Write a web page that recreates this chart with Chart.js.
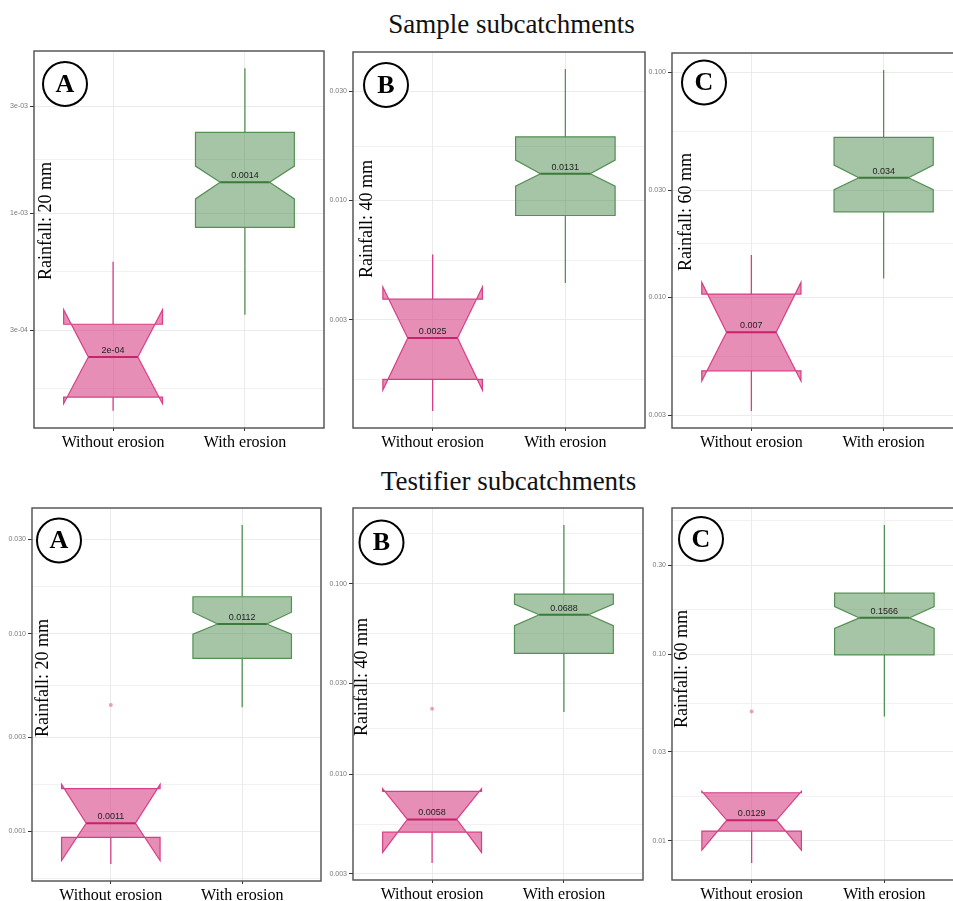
<!DOCTYPE html>
<html>
<head>
<meta charset="utf-8">
<script src="https://cdn.jsdelivr.net/npm/chart.js@4.4.1/dist/chart.umd.min.js"></script>
<style>
  html, body { margin: 0; padding: 0; background: #fff; }
  #page { position: relative; width: 953px; height: 901px; overflow: hidden; background: #fff; }
  .title { position: absolute; transform: translateX(-50%); white-space: nowrap;
           font-family: "Liberation Serif", "Times New Roman", serif; font-size: 27px;
           line-height: 30px; color: #111; }
  canvas { position: absolute; }
</style>
</head>
<body>
<div id="page">
  <div class="title" style="left:511.5px; top:9px;">Sample subcatchments</div>
  <div class="title" style="left:508.5px; top:466px;">Testifier subcatchments</div>
</div>
<script>
// Categories on the x axis
const groups = ['Without erosion', 'With erosion'];

// Box statistics, each as [lower whisker, Q1, median, Q3, upper whisker, notch low, notch high]
// Sample subcatchments
const sample20Without = [0.000131, 0.000151, 0.000228, 0.000319, 0.000606, 0.000141, 0.000370];
const sample20With    = [0.000352, 0.000862, 0.00137, 0.00229, 0.00443, 0.001156, 0.00162];
const sample40Without = [0.00120, 0.00165, 0.00250, 0.00370, 0.00580, 0.00148, 0.00418];
const sample40With    = [0.00435, 0.00860, 0.0131, 0.0190, 0.0376, 0.01156, 0.01503];
const sample60Without = [0.00313, 0.00472, 0.00700, 0.01035, 0.01542, 0.00425, 0.01166];
const sample60With    = [0.01213, 0.0240, 0.0340, 0.0514, 0.1024, 0.0301, 0.0387];
// Testifier subcatchments
const testifier20Without = [0.000684, 0.000933, 0.00110, 0.001645, 0.001645, 0.000713, 0.00173];
const testifier20With    = [0.00425, 0.00750, 0.0112, 0.01538, 0.0355, 0.00996, 0.01285];
const testifier40Without = [0.00342, 0.00497, 0.00580, 0.00814, 0.00814, 0.00389, 0.00841];
const testifier40With    = [0.0212, 0.0431, 0.0688, 0.0883, 0.2036, 0.0603, 0.0783];
const testifier60Without = [0.00760, 0.01128, 0.0129, 0.0181, 0.0181, 0.00891, 0.0184];
const testifier60With    = [0.0464, 0.0991, 0.1566, 0.2123, 0.493, 0.1374, 0.180];

// Outlying points of the "Without erosion" group
const testifier20Outliers = [0.00436];
const testifier40Outliers = [0.0221];
const testifier60Outliers = [0.0493];

// Major y ticks and their labels
const sample20Ticks = [3e-4, 1e-3, 3e-3];
const sample20TickLabels = ['3e-04', '1e-03', '3e-03'];
const sample40Ticks = [0.003, 0.010, 0.030];
const sample40TickLabels = ['0.003', '0.010', '0.030'];
const sample60Ticks = [0.003, 0.010, 0.030, 0.100];
const sample60TickLabels = ['0.003', '0.010', '0.030', '0.100'];
const testifier20Ticks = [0.001, 0.003, 0.010, 0.030];
const testifier20TickLabels = ['0.001', '0.003', '0.010', '0.030'];
const testifier40Ticks = [0.003, 0.010, 0.030, 0.100];
const testifier40TickLabels = ['0.003', '0.010', '0.030', '0.100'];
const testifier60Ticks = [0.01, 0.03, 0.10, 0.30];
const testifier60TickLabels = ['0.01', '0.03', '0.10', '0.30'];

// Colours of the two groups
const pinkStyle  = { fill: 'rgba(209, 50, 120, 0.55)', line: 'rgb(216, 62, 135)', median: '#c62368', point: 'rgba(214, 51, 127, 0.45)' };
const greenStyle = { fill: 'rgba(58, 125, 58, 0.45)',  line: 'rgb(84, 145, 84)',  median: '#3b7a3b' };

// Panel layout: plot rectangle [left, top, width, height] on the page,
// badge circle centre and rotated caption centre relative to the plot's top-left corner
const panels = [
  { letter: 'A', caption: 'Rainfall: 20 mm', boxes: [sample20Without, sample20With], outliers: [],
    ticks: sample20Ticks, labels: sample20TickLabels, rect: [34, 51, 290, 377], badge: [31, 33], cap: [12.7, 170] },
  { letter: 'B', caption: 'Rainfall: 40 mm', boxes: [sample40Without, sample40With], outliers: [],
    ticks: sample40Ticks, labels: sample40TickLabels, rect: [353, 52, 292, 376], badge: [33, 33], cap: [14, 167] },
  { letter: 'C', caption: 'Rainfall: 60 mm', boxes: [sample60Without, sample60With], outliers: [],
    ticks: sample60Ticks, labels: sample60TickLabels, rect: [672, 53, 291, 375], badge: [32, 29.5], cap: [14, 159] },
  { letter: 'A', caption: 'Rainfall: 20 mm', boxes: [testifier20Without, testifier20With], outliers: testifier20Outliers,
    ticks: testifier20Ticks, labels: testifier20TickLabels, rect: [32, 508, 289, 373], badge: [27, 32.5], cap: [11, 170] },
  { letter: 'B', caption: 'Rainfall: 40 mm', boxes: [testifier40Without, testifier40With], outliers: testifier40Outliers,
    ticks: testifier40Ticks, labels: testifier40TickLabels, rect: [353, 508, 290, 372], badge: [28.5, 34.5], cap: [9.5, 169] },
  { letter: 'C', caption: 'Rainfall: 60 mm', boxes: [testifier60Without, testifier60With], outliers: testifier60Outliers,
    ticks: testifier60Ticks, labels: testifier60TickLabels, rect: [672, 508, 292, 372], badge: [29, 31], cap: [10.5, 161] }
];

const Y_AXIS_W = 34, PAD_TOP = 10, PAD_RIGHT = 4, X_AXIS_H = 32;

// Median labels: rounded to 4 decimals, small values written the way R prints them
function formatMedian(v) {
  const r = Math.round(v * 1e4) / 1e4;
  if (r < 1e-3) {
    const [m, e] = r.toExponential().split('e');
    const n = Math.abs(+e);
    return m + 'e' + (+e < 0 ? '-' : '+') + String(n).padStart(2, '0');
  }
  return String(r);
}

// Log-scale limits with a 5% expansion, as ggplot does
function limitsOf(boxes, outliers) {
  const vals = [];
  boxes.forEach(b => { vals.push(b[0], b[4]); });
  outliers.forEach(v => vals.push(v));
  const lo = Math.log10(Math.min(...vals)), hi = Math.log10(Math.max(...vals));
  const pad = 0.05 * (hi - lo);
  return [Math.pow(10, lo - pad), Math.pow(10, hi + pad)];
}

// Minor grid lines halfway between major breaks (in log space)
function minorBreaks(ticks, lim) {
  const b = ticks.map(Math.log10);
  const bd = b[1] - b[0];
  const lmin = Math.log10(lim[0]), lmax = Math.log10(lim[1]);
  if (lmin < b[0]) b.unshift(b[0] - bd);
  if (lmax > b[b.length - 1]) b.push(b[b.length - 1] + bd);
  const out = [];
  for (let i = 0; i < b.length - 1; i++) {
    const m = (b[i] + b[i + 1]) / 2;
    if (m >= lmin && m <= lmax) out.push(Math.pow(10, m));
  }
  return out;
}

function drawBox(ctx, xs, ys, stats, xc, style) {
  const [lo, q1, med, q3, hi, nlo, nhi] = stats;
  const y = v => ys.getPixelForValue(v);
  const xl = xs.getPixelForValue(xc - 0.375), xr = xs.getPixelForValue(xc + 0.375);
  const xm = xs.getPixelForValue(xc);
  const ind = (xr - xl) * 0.25;

  ctx.save();
  ctx.lineJoin = 'miter';
  // whiskers
  ctx.strokeStyle = style.line;
  ctx.lineWidth = 1.3;
  ctx.beginPath();
  ctx.moveTo(xm, y(q3)); ctx.lineTo(xm, y(hi));
  ctx.moveTo(xm, y(q1)); ctx.lineTo(xm, y(lo));
  ctx.stroke();
  // notched box
  ctx.beginPath();
  ctx.moveTo(xl, y(q3));
  ctx.lineTo(xl, y(nhi));
  ctx.lineTo(xl + ind, y(med));
  ctx.lineTo(xl, y(nlo));
  ctx.lineTo(xl, y(q1));
  ctx.lineTo(xr, y(q1));
  ctx.lineTo(xr, y(nlo));
  ctx.lineTo(xr - ind, y(med));
  ctx.lineTo(xr, y(nhi));
  ctx.lineTo(xr, y(q3));
  ctx.closePath();
  ctx.fillStyle = style.fill;
  ctx.fill();
  ctx.lineWidth = 1.2;
  ctx.stroke();
  // median
  ctx.strokeStyle = style.median;
  ctx.lineWidth = 2;
  ctx.beginPath();
  ctx.moveTo(xl + ind, y(med));
  ctx.lineTo(xr - ind, y(med));
  ctx.stroke();
  // median value
  ctx.fillStyle = '#222';
  ctx.font = '9px "Liberation Sans", Arial, sans-serif';
  ctx.textAlign = 'center';
  ctx.textBaseline = 'bottom';
  ctx.fillText(formatMedian(med), xm, y(med) - 2);
  ctx.restore();
}

const boxPlugin = {
  id: 'notchedBoxes',
  beforeDatasetsDraw(chart) {
    const p = chart.options.plugins.notchedBoxes.panel;
    const ctx = chart.ctx;
    ctx.save();
    const a = chart.chartArea;
    ctx.beginPath();
    ctx.rect(a.left, a.top, a.right - a.left, a.bottom - a.top);
    ctx.clip();
    p.boxes.forEach((b, i) => drawBox(ctx, chart.scales.x, chart.scales.y, b, i + 1, i === 0 ? pinkStyle : greenStyle));
    ctx.restore();
  },
  afterDraw(chart) {
    const p = chart.options.plugins.notchedBoxes.panel;
    const ctx = chart.ctx;
    const a = chart.chartArea;
    ctx.save();
    // rotated caption
    ctx.translate(a.left + p.cap[0], a.top + p.cap[1]);
    ctx.rotate(-Math.PI / 2);
    ctx.fillStyle = '#000';
    ctx.font = '18px "Liberation Serif", "Times New Roman", serif';
    ctx.textAlign = 'center';
    ctx.textBaseline = 'middle';
    ctx.fillText(p.caption, 0, 0);
    ctx.restore();
    // letter badge
    ctx.save();
    const cx = a.left + p.badge[0], cy = a.top + p.badge[1];
    ctx.beginPath();
    ctx.arc(cx, cy, 22, 0, Math.PI * 2);
    ctx.fillStyle = '#fff';
    ctx.fill();
    ctx.lineWidth = 2;
    ctx.strokeStyle = '#000';
    ctx.stroke();
    ctx.fillStyle = '#000';
    ctx.font = 'bold 26px "Liberation Serif", "Times New Roman", serif';
    ctx.textAlign = 'center';
    ctx.textBaseline = 'middle';
    ctx.fillText(p.letter, cx, cy + 1);
    ctx.restore();
    // panel border
    ctx.save();
    ctx.strokeStyle = '#4d4d4d';
    ctx.lineWidth = 1.4;
    ctx.strokeRect(a.left, a.top, a.right - a.left, a.bottom - a.top);
    ctx.restore();
  }
};

const page = document.getElementById('page');

panels.forEach(p => {
  const [L, T, W, H] = p.rect;
  const canvas = document.createElement('canvas');
  const cw = W + Y_AXIS_W + PAD_RIGHT, ch = H + PAD_TOP + X_AXIS_H;
  canvas.width = cw; canvas.height = ch;
  canvas.style.left = (L - Y_AXIS_W) + 'px';
  canvas.style.top = (T - PAD_TOP) + 'px';
  canvas.style.width = cw + 'px';
  canvas.style.height = ch + 'px';
  page.appendChild(canvas);

  const lim = limitsOf(p.boxes, p.outliers);
  const minors = minorBreaks(p.ticks, lim);
  const yTicks = p.ticks.map(v => ({ value: v }))
    .concat(minors.map(v => ({ value: v, minor: true })))
    .sort((u, v) => u.value - v.value);

  new Chart(canvas, {
    type: 'scatter',
    data: {
      datasets: [{
        data: p.outliers.map(v => ({ x: 1, y: v })),
        pointRadius: 2,
        pointBackgroundColor: pinkStyle.point,
        pointBorderWidth: 0
      }]
    },
    options: {
      responsive: false,
      animation: false,
      devicePixelRatio: 1,
      events: [],
      layout: { padding: { top: PAD_TOP, right: PAD_RIGHT, left: 0, bottom: 0 } },
      plugins: {
        legend: { display: false },
        tooltip: { enabled: false },
        notchedBoxes: { panel: p }
      },
      scales: {
        x: {
          type: 'linear', min: 0.4, max: 2.6,
          afterBuildTicks: s => { s.ticks = groups.map((g, i) => ({ value: i + 1 })); },
          afterFit: s => { s.height = X_AXIS_H; },
          border: { display: false },
          grid: { color: '#ebebeb', lineWidth: 1, tickColor: '#333', tickLength: 3, tickWidth: 1 },
          ticks: {
            autoSkip: false, maxRotation: 0, minRotation: 0, padding: 2, color: '#000',
            font: { family: '"Liberation Serif", "Times New Roman", serif', size: 16 },
            callback: v => groups[Math.round(v) - 1] || ''
          }
        },
        y: {
          type: 'logarithmic', min: lim[0], max: lim[1],
          afterBuildTicks: s => { s.ticks = yTicks.map(t => Object.assign({}, t)); },
          afterFit: s => { s.width = Y_AXIS_W; },
          border: { display: false },
          grid: {
            color: '#ebebeb',
            lineWidth: c => (c.tick && c.tick.minor) ? 0.7 : 1,
            tickColor: c => (c.tick && c.tick.minor) ? 'rgba(0,0,0,0)' : '#333',
            tickLength: 4, tickWidth: 1
          },
          ticks: {
            autoSkip: false, padding: 2, color: '#7a7a7a',
            font: { family: '"Liberation Sans", Arial, sans-serif', size: 7 },
            callback: v => {
              const k = p.ticks.findIndex(t => Math.abs(t - v) / t < 1e-9);
              return k >= 0 ? p.labels[k] : '';
            }
          }
        }
      }
    },
    plugins: [boxPlugin]
  });
});
</script>
</body>
</html>
